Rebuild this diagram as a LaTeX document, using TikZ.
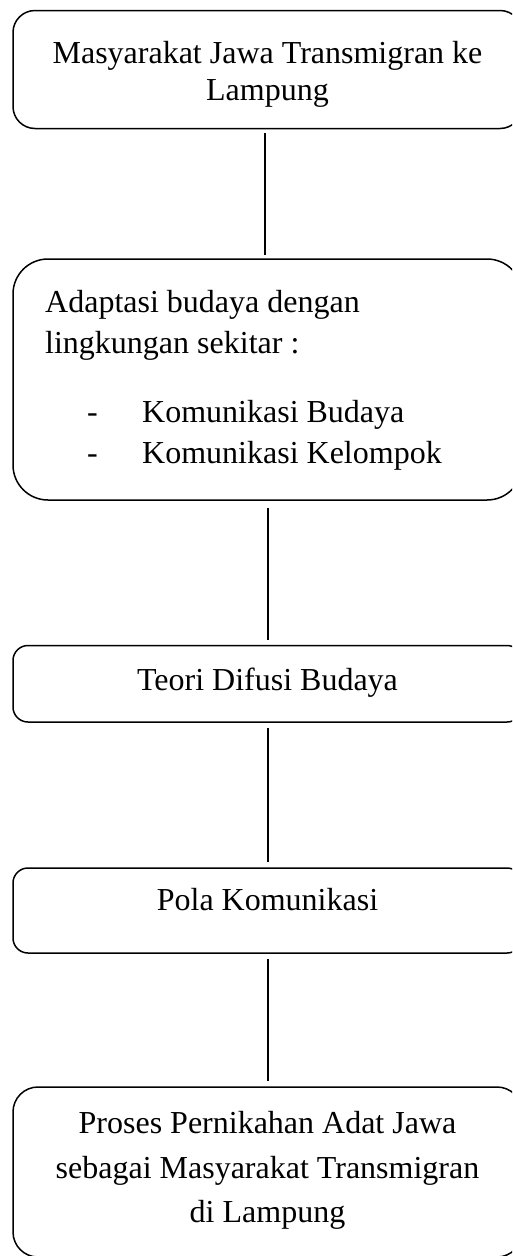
\documentclass[tikz,border=0pt]{standalone}
\usepackage{fontspec}
\setmainfont{Liberation Serif}
\begin{document}
\begin{tikzpicture}[x=1pt,y=-1pt,
  box/.style={draw=black, line width=1.5pt, minimum width=509pt, inner sep=0pt},
  txt/.style={font=\fontsize{32}{38}\selectfont, inner sep=0pt, anchor=base},
  ltxt/.style={txt, anchor=base west},
  conn/.style={draw=black, line width=1.5pt}]
\useasboundingbox (0,0) rectangle (512,1256);
\clip (0,0) rectangle (512,1256);
% boxes
\node[box, rounded corners=22pt, minimum height=118pt] (b1) at (267.5,69.5) {};
\node[box, rounded corners=35pt, minimum height=241pt] (b2) at (267.5,379.5) {};
\node[box, rounded corners=15pt, minimum height=76.5pt] (b3) at (267.5,683.75) {};
\node[box, rounded corners=15pt, minimum height=85pt] (b4) at (267.5,910.5) {};
\node[box, rounded corners=25pt, minimum height=170pt] (b5) at (267.5,1172) {};
% texts
\node[txt] (t1a) at (267.5,63) {Masyarakat Jawa Transmigran ke};
\node[txt] (t1b) at (267.5,100) {Lampung};
\node[ltxt] (t2a) at (45,312) {Adaptasi budaya dengan};
\node[ltxt] (t2b) at (45,353) {lingkungan sekitar :};
\node[ltxt] (d2c) at (87,422) {-};
\node[ltxt] (t2c) at (142,422) {Komunikasi Budaya};
\node[ltxt] (d2d) at (87,463) {-};
\node[ltxt] (t2d) at (142,463) {Komunikasi Kelompok};
\node[txt] (t3) at (267.5,690) {Teori Difusi Budaya};
\node[txt] (t4) at (267.5,910) {Pola Komunikasi};
\node[txt] (t5a) at (267.5,1133) {Proses Pernikahan Adat Jawa};
\node[txt] (t5b) at (267.5,1178) {sebagai Masyarakat Transmigran};
\node[txt] (t5c) at (267.5,1222) {di Lampung};
% connectors
\draw[conn, shorten <=4pt, shorten >=3pt] ([xshift=-2.5pt]b1.south) -- ([xshift=-2.5pt]b2.north);
\draw[conn, shorten <=7pt, shorten >=5pt] ([xshift=0.5pt]b2.south) -- ([xshift=0.5pt]b3.north);
\draw[conn, shorten <=5pt, shorten >=5pt] ([xshift=0.5pt]b3.south) -- ([xshift=0.5pt]b4.north);
\draw[conn, shorten <=5pt, shorten >=5pt] ([xshift=0.5pt]b4.south) -- ([xshift=0.5pt]b5.north);
\end{tikzpicture}
\end{document}
